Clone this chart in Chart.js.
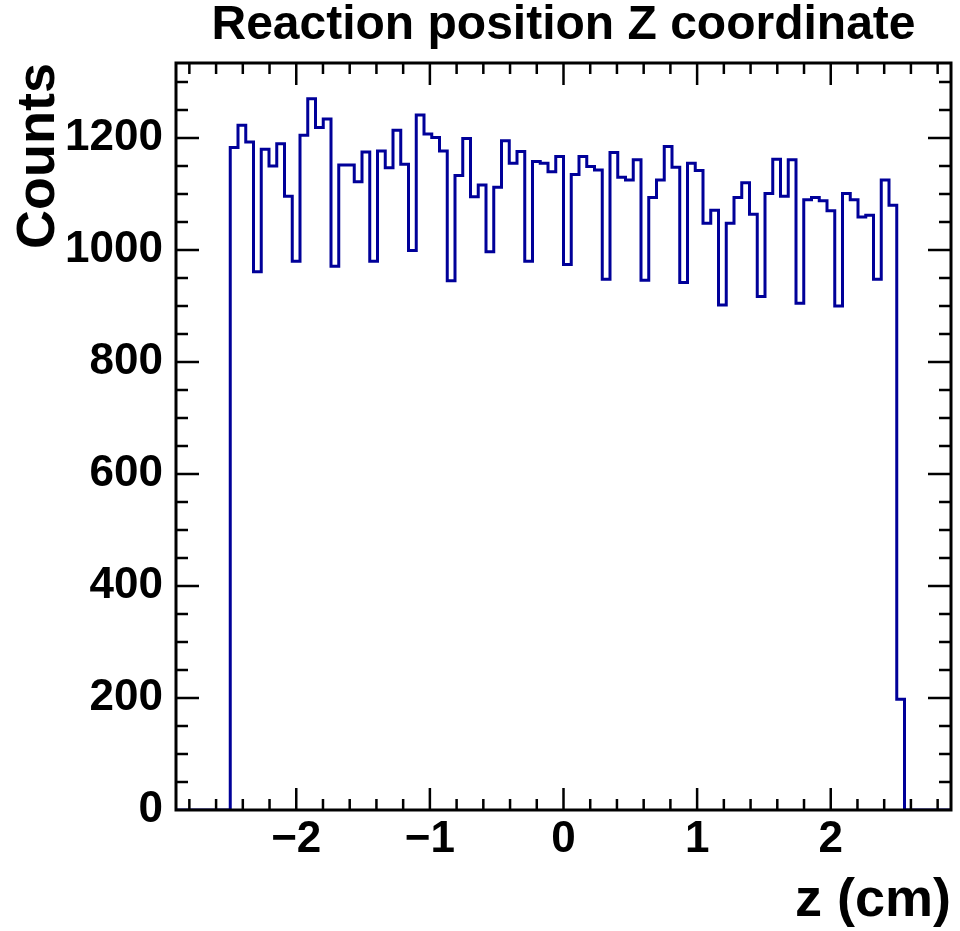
<!DOCTYPE html>
<html>
<head>
<meta charset="utf-8">
<script src="https://cdn.jsdelivr.net/npm/chart.js@4/dist/chart.umd.min.js"></script>
<style>
  body { margin: 0; background: #fff; }
</style>
</head>
<body>
<canvas id="zChart" width="960" height="931"></canvas>
<script>
// histogram binning: 100 bins over [-2.9, 2.9]
const xMin = -2.9;
const xMax = 2.9;
const nBins = 100;

// bin contents
const binCounts = [
  0, 0, 0, 0, 0, 0, 0, 1183, 1223, 1193,
  961, 1180, 1150, 1190, 1096, 980, 1205, 1270, 1219, 1234,
  971, 1152, 1152, 1122, 1175, 980, 1177, 1147, 1214, 1153,
  999, 1241, 1207, 1201, 1177, 945, 1133, 1199, 1095, 1116,
  997, 1112, 1195, 1155, 1176, 980, 1158, 1155, 1140, 1167,
  974, 1135, 1167, 1149, 1143, 948, 1174, 1130, 1125, 1161,
  946, 1094, 1125, 1185, 1148, 942, 1155, 1142, 1048, 1071,
  902, 1048, 1094, 1120, 1064, 917, 1101, 1162, 1096, 1161,
  905, 1090, 1094, 1088, 1070, 900, 1101, 1090, 1059, 1062,
  948, 1125, 1080, 198, 0, 0, 0, 0, 0, 0
];

const yMax = 1334;
const xTickLabels = [-2, -1, 0, 1, 2];
const yTickLabels = [0, 200, 400, 600, 800, 1000, 1200];
const xMinorStep = 0.2;
const yMinorStep = 50;

const FONT = "'Liberation Sans', Arial, Helvetica, sans-serif";
const LINE_COLOR = "#000099";

// left bin edges + closing point at the right edge
const binWidth = (xMax - xMin) / nBins;
const points = binCounts.map((c, i) => ({ x: xMin + i * binWidth, y: c }));
points.push({ x: xMax, y: binCounts[nBins - 1] });

// ROOT-like frame with ticks pointing inwards on all four sides
const frameTicks = {
  id: "frameTicks",
  afterDatasetsDraw(chart) {
    const { ctx, chartArea: a, scales } = chart;
    const x = scales.x, y = scales.y;
    ctx.save();
    ctx.strokeStyle = "#000";
    ctx.lineWidth = 2.5;
    ctx.beginPath();
    const xTick = (v, len) => {
      const px = x.getPixelForValue(v);
      ctx.moveTo(px, a.bottom); ctx.lineTo(px, a.bottom - len);
      ctx.moveTo(px, a.top); ctx.lineTo(px, a.top + len);
    };
    const yTick = (v, len) => {
      const py = y.getPixelForValue(v);
      ctx.moveTo(a.left, py); ctx.lineTo(a.left + len, py);
      ctx.moveTo(a.right, py); ctx.lineTo(a.right - len, py);
    };
    for (let v = -2.8; v < xMax; v += xMinorStep) {
      const r = Math.round(v * 10) / 10;
      if (xTickLabels.includes(r)) xTick(r, 22); else xTick(r, 11);
    }
    for (let v = yMinorStep; v < yMax; v += yMinorStep) {
      if (yTickLabels.includes(v)) yTick(v, 23); else yTick(v, 12);
    }
    ctx.stroke();
    ctx.lineWidth = 3;
    ctx.strokeRect(a.left, a.top, a.right - a.left, a.bottom - a.top);
    ctx.restore();
  }
};

Chart.defaults.color = "#000";
Chart.defaults.font.family = FONT;

new Chart("zChart", {
  type: "line",
  data: {
    datasets: [
      {
        label: "z",
        data: points,
        stepped: "before",
        borderColor: LINE_COLOR,
        borderWidth: 3,
        pointRadius: 0,
        fill: false,
      },
    ],
  },
  options: {
    responsive: false,
    animation: false,
    layout: { padding: { right: 9 } },
    plugins: {
      legend: { display: false },
      tooltip: { enabled: false },
      title: {
        display: true,
        fullSize: false,
        text: "Reaction position Z coordinate",
        font: { size: 48, weight: "bold", lineHeight: 1 },
        padding: { top: 2, bottom: 13 },
      },
    },
    scales: {
      x: {
        type: "linear",
        min: xMin,
        max: xMax,
        afterBuildTicks: (s) => { s.ticks = xTickLabels.map((v) => ({ value: v })); },
        afterFit: (s) => { s.height = 121; },
        grid: { display: false, drawTicks: false },
        border: { display: false },
        ticks: {
          padding: 3,
          maxRotation: 0,
          font: { size: 44, weight: "bold", lineHeight: 1.2 },
          callback: (v) => (v < 0 ? "\u2212" + Math.abs(v) : String(v)),
        },
        title: {
          display: true,
          text: "z (cm)",
          align: "end",
          font: { size: 54, weight: "bold", lineHeight: 1 },
          padding: { top: 0, bottom: 3 },
        },
      },
      y: {
        min: 0,
        max: yMax,
        afterBuildTicks: (s) => { s.ticks = yTickLabels.map((v) => ({ value: v })); },
        afterFit: (s) => { s.width = 176; },
        grid: { display: false, drawTicks: false },
        border: { display: false },
        ticks: {
          padding: 13,
          font: { size: 44, weight: "bold" },
          callback: (v) => String(v),
        },
        title: {
          display: true,
          text: "Counts",
          align: "end",
          font: { size: 54, weight: "bold", lineHeight: 1 },
          padding: { top: 12, bottom: 0 },
        },
      },
    },
  },
  plugins: [frameTicks],
});
</script>
</body>
</html>
